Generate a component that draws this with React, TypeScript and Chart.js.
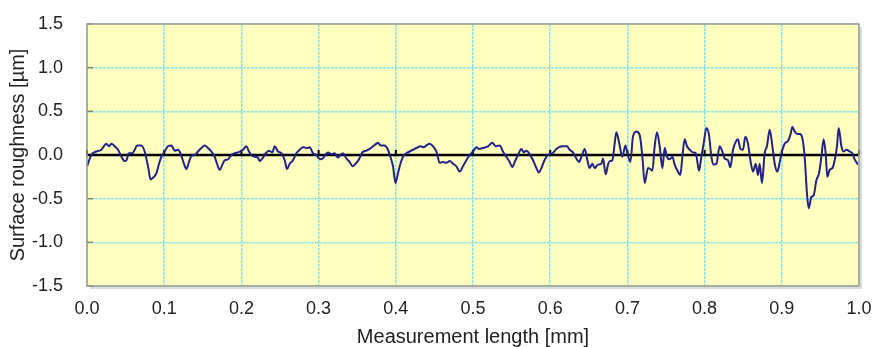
import React, { useEffect, useRef } from "react";
import { Chart, registerables } from "chart.js";

Chart.register(...registerables);

const xPositions: number[] = [
  0.0, 0.0057, 0.0122, 0.0187, 0.0251, 0.0285, 0.0316, 0.0359, 0.0402, 0.0446,
  0.0488, 0.051, 0.0544, 0.0588, 0.0618, 0.0648, 0.0705, 0.0747, 0.0769, 0.0799,
  0.0821, 0.0855, 0.0899, 0.0933, 0.0964, 0.1006, 0.1049, 0.1093, 0.1136, 0.1179,
  0.1223, 0.1256, 0.1288, 0.1321, 0.1352, 0.1395, 0.1438, 0.1482, 0.1525, 0.1567,
  0.1611, 0.1654, 0.1684, 0.1719, 0.1754, 0.1784, 0.1826, 0.187, 0.1913, 0.1956,
  0.2021, 0.2065, 0.2098, 0.2129, 0.2172, 0.2215, 0.2237, 0.2272, 0.2315, 0.2357,
  0.2401, 0.2431, 0.2474, 0.2518, 0.2561, 0.2591, 0.2626, 0.2668, 0.2712, 0.2755,
  0.2798, 0.285, 0.2885, 0.2927, 0.2971, 0.3005, 0.3036, 0.3079, 0.3122, 0.3166,
  0.3208, 0.3251, 0.3282, 0.3316, 0.336, 0.3403, 0.3438, 0.348, 0.3523, 0.3567,
  0.3619, 0.3662, 0.3705, 0.3749, 0.3769, 0.3804, 0.3856, 0.3899, 0.393, 0.3964,
  0.3995, 0.4028, 0.406, 0.4093, 0.4137, 0.418, 0.4223, 0.4267, 0.4319, 0.4361,
  0.4396, 0.4439, 0.4482, 0.4526, 0.4569, 0.4611, 0.4655, 0.4698, 0.4741, 0.4785,
  0.4828, 0.487, 0.4914, 0.4957, 0.5, 0.5044, 0.5077, 0.5129, 0.5194, 0.5251,
  0.5294, 0.5346, 0.5388, 0.5432, 0.5475, 0.551, 0.554, 0.5583, 0.5627, 0.5657,
  0.5692, 0.5734, 0.5777, 0.5821, 0.5851, 0.5886, 0.5916, 0.5951, 0.5984, 0.6028,
  0.6071, 0.6114, 0.6166, 0.6217, 0.6252, 0.6295, 0.6339, 0.6373, 0.6404, 0.6447,
  0.6477, 0.6511, 0.6546, 0.6576, 0.6619, 0.6663, 0.6684, 0.6719, 0.6749, 0.6771,
  0.6806, 0.6835, 0.6857, 0.6891, 0.6935, 0.6974, 0.6995, 0.7039, 0.7072, 0.7116,
  0.7159, 0.7194, 0.7224, 0.7267, 0.7311, 0.7324, 0.7353, 0.7383, 0.7418, 0.7453,
  0.7483, 0.7513, 0.7548, 0.7583, 0.7612, 0.7655, 0.7686, 0.7712, 0.7742, 0.7772,
  0.7807, 0.7849, 0.7885, 0.7907, 0.7927, 0.7958, 0.7988, 0.8023, 0.8057, 0.8088,
  0.8118, 0.8153, 0.8195, 0.823, 0.826, 0.8303, 0.8334, 0.8368, 0.8403, 0.8432,
  0.8464, 0.8497, 0.8528, 0.8562, 0.8593, 0.8627, 0.8662, 0.8691, 0.8713, 0.8743,
  0.8778, 0.8808, 0.8843, 0.8878, 0.8908, 0.8943, 0.8973, 0.9002, 0.9037, 0.908,
  0.9111, 0.9137, 0.9167, 0.9202, 0.9232, 0.9267, 0.9296, 0.9326, 0.9348, 0.9383,
  0.9413, 0.9448, 0.9482, 0.9513, 0.9542, 0.9568, 0.959, 0.962, 0.9655, 0.9685,
  0.9715, 0.9737, 0.9772, 0.9801, 0.9837, 0.9879, 0.9914, 0.9944, 0.9987,
];

const roughness: number[] = [
  -0.13, 0.0, 0.04, 0.06, 0.13, 0.1, 0.13, 0.1, 0.06, -0.02,
  -0.07, -0.06, 0.02, 0.02, 0.06, 0.11, 0.11, 0.04, -0.04, -0.17,
  -0.28, -0.26, -0.21, -0.1, -0.02, 0.04, 0.1, 0.11, 0.05, 0.06,
  -0.01, -0.1, -0.16, -0.08, -0.01, 0.0, 0.04, 0.08, 0.11, 0.08,
  0.04, -0.02, -0.1, -0.17, -0.11, -0.06, -0.05, 0.0, 0.02, 0.03,
  0.06, 0.1, 0.04, 0.0, -0.02, -0.03, -0.07, -0.04, 0.02, 0.05,
  0.03, 0.1, 0.04, 0.02, -0.06, -0.16, -0.1, -0.06, 0.02, 0.06,
  0.09, 0.08, 0.09, 0.02, 0.0, -0.04, -0.05, -0.01, 0.03, 0.01,
  0.02, -0.03, 0.0, 0.02, -0.04, -0.08, -0.13, -0.1, -0.05, 0.03,
  0.05, 0.07, 0.1, 0.13, 0.14, 0.11, 0.11, 0.06, -0.02, -0.13,
  -0.32, -0.21, -0.1, -0.02, 0.02, 0.04, 0.06, 0.08, 0.1, 0.09,
  0.11, 0.13, 0.1, 0.04, -0.09, -0.08, -0.09, -0.07, -0.1, -0.13,
  -0.19, -0.13, -0.06, 0.0, 0.04, 0.09, 0.07, 0.08, 0.1, 0.14,
  0.1, 0.11, 0.04, -0.02, -0.08, -0.14, -0.08, 0.0, 0.07, 0.03,
  0.05, 0.01, -0.06, -0.15, -0.2, -0.15, -0.08, -0.02, 0.01, 0.02,
  0.06, 0.09, 0.1, 0.1, 0.06, 0.03, -0.04, -0.08, -0.02, 0.07,
  -0.04, -0.15, -0.1, -0.15, -0.11, -0.1, -0.04, -0.22, -0.11, -0.07,
  -0.06, 0.13, 0.26, 0.15, -0.02, 0.11, 0.04, -0.08, 0.21, 0.27,
  0.23, -0.02, -0.32, -0.15, -0.17, -0.18, 0.1, 0.26, 0.1, -0.15,
  0.08, -0.02, -0.05, -0.02, -0.11, -0.19, -0.23, -0.02, 0.18, 0.1,
  0.06, 0.03, 0.02, -0.08, -0.18, -0.02, 0.13, 0.31, 0.23, -0.02,
  -0.11, -0.1, 0.1, 0.04, -0.04, -0.06, -0.14, 0.06, 0.15, 0.18,
  0.07, 0.06, 0.21, 0.13, -0.06, -0.19, -0.1, -0.23, -0.1, -0.32,
  0.02, 0.1, 0.29, 0.1, -0.1, -0.19, -0.08, 0.04, 0.13, 0.16,
  0.23, 0.32, 0.27, 0.24, 0.24, 0.19, -0.02, -0.44, -0.61, -0.48,
  -0.46, -0.29, -0.21, -0.02, 0.18, 0.02, -0.25, -0.17, -0.15, -0.06,
  0.1, 0.31, 0.1, 0.04, 0.06, 0.04, 0.02, -0.05, -0.11,
];

const X_MIN = 0;
const X_MAX = 1;
const X_STEP = 0.1;
const Y_MIN = -1.5;
const Y_MAX = 1.5;
const Y_STEP = 0.5;
const X_TITLE = "Measurement length [mm]";
const Y_TITLE = "Surface roughness [µm]";

const FONT = "'Liberation Sans', Arial, Helvetica, sans-serif";
const PLOT_BG = "#FFFFC0";
const GRID = "#86E2E8";
const LINE = "#222288";
const TEXT = "#222222";

const decor = {
  id: "decor",
  beforeDraw(chart: any) {
    const { ctx, chartArea: a } = chart;
    ctx.save();
    ctx.fillStyle = PLOT_BG;
    ctx.fillRect(a.left, a.top, a.right - a.left, a.bottom - a.top);
    ctx.restore();
  },
  beforeDatasetsDraw(chart: any) {
    const { ctx, chartArea: a, scales } = chart;
    const xs = scales.x;
    const ys = scales.y;
    const y0 = ys.getPixelForValue(0);
    ctx.save();
    ctx.strokeStyle = "#8C8468";
    ctx.lineWidth = 1.5;
    ys.ticks.forEach((t: any) => {
      const py = ys.getPixelForValue(t.value);
      ctx.beginPath();
      ctx.moveTo(a.left, py);
      ctx.lineTo(a.left + 6, py);
      ctx.stroke();
    });
    ctx.strokeStyle = "#000";
    ctx.lineWidth = 2.5;
    ctx.beginPath();
    ctx.moveTo(a.left, y0);
    ctx.lineTo(a.right, y0);
    ctx.stroke();
    ctx.lineWidth = 2;
    xs.ticks.forEach((t: any) => {
      const px = xs.getPixelForValue(t.value);
      ctx.beginPath();
      ctx.moveTo(px, y0);
      ctx.lineTo(px, y0 - 5);
      ctx.stroke();
    });
    ctx.restore();
  },
  afterDraw(chart: any) {
    const { ctx, chartArea: a } = chart;
    ctx.save();
    ctx.strokeStyle = "#A09C8C";
    ctx.lineWidth = 1.5;
    ctx.strokeRect(a.left, a.top, a.right - a.left, a.bottom - a.top);
    ctx.strokeStyle = "rgba(120,120,120,0.35)";
    ctx.lineWidth = 1.5;
    ctx.beginPath();
    ctx.moveTo(a.right + 2, a.top + 3);
    ctx.lineTo(a.right + 2, a.bottom + 2);
    ctx.lineTo(a.left + 3, a.bottom + 2);
    ctx.stroke();
    ctx.restore();
  },
};

export default function App() {
  const canvasRef = useRef<HTMLCanvasElement | null>(null);

  useEffect(() => {
    document.body.style.margin = "0";
    const canvas = canvasRef.current;
    if (!canvas) return;
    const points = xPositions.map((x, i) => ({ x, y: roughness[i] }));
    const chart = new Chart(canvas, {
      type: "line",
      data: {
        datasets: [
          {
            data: points,
            borderColor: LINE,
            borderWidth: 2,
            pointRadius: 0,
            cubicInterpolationMode: "monotone",
            fill: false,
          },
        ],
      },
      options: {
        responsive: false,
        animation: false,
        devicePixelRatio: 1,
        layout: { padding: { top: 24, right: 13, left: 0, bottom: 0 } },
        plugins: { legend: { display: false }, tooltip: { enabled: false } },
        scales: {
          x: {
            type: "linear",
            min: X_MIN,
            max: X_MAX,
            ticks: {
              stepSize: X_STEP,
              padding: 12,
              autoSkip: false,
              maxRotation: 0,
              color: TEXT,
              font: { size: 18, family: FONT },
              callback: (v: any) => Number(v).toFixed(1),
            },
            grid: { color: GRID, lineWidth: 1.5, drawTicks: false },
            border: { display: false, dash: [3, 1] },
            title: {
              display: true,
              text: X_TITLE,
              color: TEXT,
              font: { size: 20, family: FONT, lineHeight: 1 },
              padding: { top: 0, bottom: 0 },
            },
            afterFit: (s: any) => {
              s.height = 61;
              s.paddingLeft = 0;
              s.paddingRight = 0;
            },
          },
          y: {
            type: "linear",
            min: Y_MIN,
            max: Y_MAX,
            ticks: {
              stepSize: Y_STEP,
              padding: 24,
              color: TEXT,
              font: { size: 18, family: FONT },
              callback: (v: any) => Number(v).toFixed(1),
            },
            grid: { color: GRID, lineWidth: 1.5, drawTicks: false },
            border: { display: false, dash: [3, 1] },
            title: {
              display: true,
              text: Y_TITLE,
              color: TEXT,
              font: { size: 20, family: FONT, lineHeight: 1.2 },
              padding: { top: 6, bottom: 0 },
            },
            afterFit: (s: any) => {
              s.width = 87;
              s.paddingTop = 0;
              s.paddingBottom = 0;
            },
          },
        },
      },
      plugins: [decor],
    });
    return () => chart.destroy();
  }, []);

  return (
    <div style={{ position: "absolute", left: 0, top: 0, width: 872, height: 347, background: "#fff" }}>
      <canvas ref={canvasRef} width={872} height={347} style={{ display: "block" }} />
    </div>
  );
}
